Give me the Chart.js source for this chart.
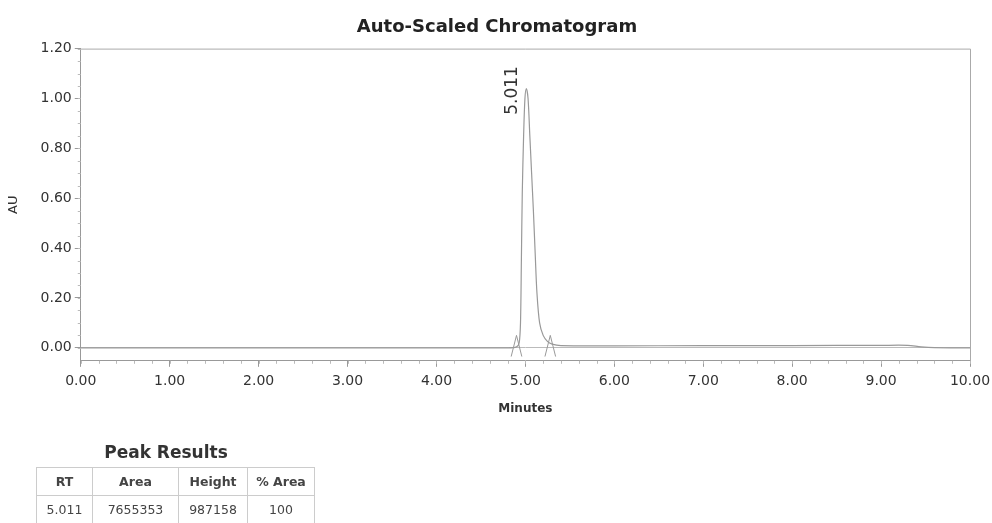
<!DOCTYPE html>
<html>
<head>
<meta charset="utf-8">
<script src="https://cdn.jsdelivr.net/npm/chart.js@4.4.0/dist/chart.umd.min.js"></script>
<style>
  body { margin: 0; background: #fff; font-family: "DejaVu Sans", sans-serif; }
  #wrap { position: relative; width: 992px; height: 523px; overflow: hidden; }
  #chart { position: absolute; left: 0; top: 0; }
  #peakTitle { position: absolute; left: 36px; width: 260px; top: 442px; line-height: 20px; text-align: center; font-weight: bold; font-size: 17px; color: #333; }
  #peakTable { position: absolute; left: 36px; top: 467px; border-collapse: collapse; font-size: 12.5px; color: #444; }
  #peakTable td, #peakTable th { border: 1px solid #ccc; height: 27px; padding: 0; text-align: center; }
  #peakTable th { font-weight: bold; }
</style>
</head>
<body>
<div id="wrap">
  <canvas id="chart" width="992" height="523"></canvas>
  <div id="peakTitle">Peak Results</div>
  <table id="peakTable"></table>
</div>
<script>
// chromatogram trace (minutes, AU)
const timeMin = [0.00, 1.00, 2.00, 3.00, 4.00, 4.80, 4.90, 4.93, 4.945, 4.955, 4.965, 4.98, 4.995, 5.011,
  5.03, 5.05, 5.07, 5.09, 5.11, 5.13, 5.16, 5.20, 5.25, 5.30, 5.40, 6.00, 7.00, 8.00, 9.00, 9.30, 9.45, 9.60, 10.00];
const signalAU = [0.000, 0.000, 0.000, 0.000, 0.000, 0.000, 0.004, 0.02, 0.10, 0.35, 0.62, 0.85, 1.00, 1.04,
  1.00, 0.85, 0.70, 0.55, 0.38, 0.22, 0.10, 0.05, 0.025, 0.015, 0.009, 0.008, 0.009, 0.009, 0.010, 0.010, 0.004, 0.001, 0.000];

// integration start / stop marks
const markerTime = [4.84, 4.90, 4.96, null, 5.22, 5.28, 5.34];
const markerAU = [-0.035, 0.05, -0.035, null, -0.035, 0.05, -0.035];

const xTicks = [0, 1, 2, 3, 4, 5, 6, 7, 8, 9, 10];
const yTicks = [0, 0.2, 0.4, 0.6, 0.8, 1.0, 1.2];
const xMinorStep = 0.2;
const yMinorStep = 0.05;

// peak results
const peakRT = 5.011;
const peakTopAU = 1.04;
const tableHead = ['RT', 'Area', 'Height', '% Area'];
const tableRow = ['5.011', '7655353', '987158', '100'];
const colWidths = [55, 85, 68, 66];

const tbl = document.getElementById('peakTable');
tbl.innerHTML = '<tr>' + tableHead.map((h, i) => `<th style="width:${colWidths[i]}px">${h}</th>`).join('') + '</tr>' +
  '<tr>' + tableRow.map(v => `<td>${v}</td>`).join('') + '</tr>';

const frameAndLabel = {
  id: 'frameAndLabel',
  afterDatasetsDraw(chart) {
    const { ctx, chartArea, scales } = chart;
    ctx.save();
    ctx.strokeStyle = '#aaa';
    ctx.lineWidth = 1;
    ctx.beginPath();
    ctx.moveTo(chartArea.left, chartArea.top + 0.5);
    ctx.lineTo(chartArea.right + 0.5, chartArea.top + 0.5);
    ctx.lineTo(chartArea.right + 0.5, chartArea.bottom);
    ctx.stroke();

    // minor ticks
    ctx.strokeStyle = '#bbb';
    ctx.beginPath();
    for (let v = 0; v <= scales.x.max + 1e-9; v += xMinorStep) {
      const x = Math.round(scales.x.getPixelForValue(v)) + 0.5;
      ctx.moveTo(x, chartArea.bottom);
      ctx.lineTo(x, chartArea.bottom + 3);
    }
    for (let v = 0; v <= scales.y.max + 1e-9; v += yMinorStep) {
      const y = Math.round(scales.y.getPixelForValue(v)) + 0.5;
      ctx.moveTo(chartArea.left, y);
      ctx.lineTo(chartArea.left - 3, y);
    }
    ctx.stroke();

    // peak label
    const px = scales.x.getPixelForValue(peakRT) - 14;
    const py = scales.y.getPixelForValue(peakTopAU) + 2;
    ctx.translate(px, py);
    ctx.rotate(-Math.PI / 2);
    ctx.fillStyle = '#333';
    ctx.font = '17px "DejaVu Sans", sans-serif';
    ctx.textAlign = 'center';
    ctx.textBaseline = 'middle';
    ctx.fillText('5.011', 0, 0);
    ctx.restore();
  }
};

const ctx = document.getElementById('chart').getContext('2d');
new Chart(ctx, {
  type: 'line',
  data: {
    datasets: [
      {
        data: timeMin.map((t, i) => ({ x: t, y: signalAU[i] })),
        borderColor: '#999',
        borderWidth: 1.2,
        pointRadius: 0,
        tension: 0.3
      },
      {
        data: markerTime.map((t, i) => ({ x: t, y: markerAU[i] })),
        borderColor: '#999',
        borderWidth: 1,
        pointRadius: 0,
        spanGaps: false
      }
    ]
  },
  options: {
    responsive: false,
    animation: false,
    layout: { padding: { left: 6, right: 4, top: 0, bottom: 107 } },
    plugins: {
      legend: { display: false },
      tooltip: { enabled: false },
      title: {
        display: true,
        text: 'Auto-Scaled Chromatogram',
        color: '#222',
        font: { family: 'DejaVu Sans', size: 18, weight: 'bold' },
        padding: { top: 17, bottom: 10 }
      }
    },
    scales: {
      x: {
        type: 'linear',
        min: 0,
        max: 10,
        afterBuildTicks: s => { s.ticks = xTicks.map(v => ({ value: v })); },
        afterFit: s => { s.paddingRight = 22; },
        ticks: { callback: v => v.toFixed(2), color: '#333', font: { family: 'DejaVu Sans', size: 14 }, maxRotation: 0, padding: 6 },
        grid: { display: true, color: 'transparent', tickColor: '#999', tickLength: 6 },
        border: { color: '#999' },
        title: { display: true, text: 'Minutes', color: '#333', font: { family: 'DejaVu Sans', size: 12, weight: 'bold' }, padding: { top: 6, bottom: 0 } }
      },
      y: {
        min: -0.052,
        max: 1.2,
        afterBuildTicks: s => { s.ticks = yTicks.map(v => ({ value: v })); },
        ticks: { callback: v => v.toFixed(2), color: '#333', font: { family: 'DejaVu Sans', size: 14 }, padding: 3 },
        grid: {
          color: c => (c.tick && c.tick.value === 0 ? '#bbb' : 'transparent'),
          tickColor: '#999',
          tickLength: 6
        },
        border: { color: '#999' },
        title: { display: true, text: 'AU', color: '#333', font: { family: 'DejaVu Sans', size: 13 }, padding: { top: 0, bottom: 16 } }
      }
    }
  },
  plugins: [frameAndLabel]
});
</script>
</body>
</html>
